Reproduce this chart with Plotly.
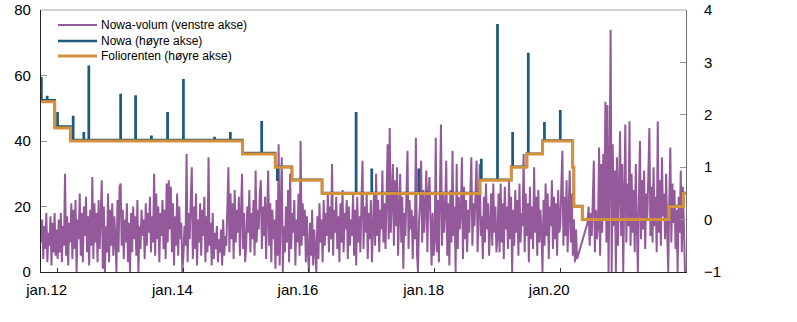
import numpy as np
import pandas as pd
import plotly.graph_objects as go

# ---------------- data ----------------
# Nowa volume (bn NOK, left axis), values read roughly every 6 days, per year
vol_2011 = [9, 16, 4, 14, 7, 18, 3, 12, 8, 17, 2, 15, 6, 18, 5, 13]
vol_2012 = [4, 16, 6, 18, 3, 14, 8, 30, 5, 17, 2, 15, 9, 21, 4, 19, 7, 22, 0, 16,
            10, 24, 5, 18, 3, 20, 11, 23, 6, 17, 2, 19, 8, 29, 4, 21, 9, 18, 3, 22,
            7, 16, 28, 1, 20, 0, 14, 6, 24, 3, 19, 8, 21, 5, 17, 10, 0, 22, 6, 26]
vol_2013 = [27, 8, 19, 4, 16, 9, 21, 3, 15, 0, 18, 6, 20, 10, 17, 5, 22, 0, 14, 7,
            19, 11, 16, 4, 21, 8, 18, 12, 23, 6, 17, 9, 30, 5, 24, 10, 20, 3, 18, 11,
            22, 7, 19, 4, 27, 9, 28, 13, 26, 6, 21, 2, 17, 8, 24, 5, 20, 10, 15, 0]
vol_2014 = [5, 14, 8, 36, 3, 18, 10, 22, 32, 4, 20, 7, 24, 2, 16, 9, 21, 5, 19, 11,
            23, 3, 17, 6, 35, 8, 15, 2, 18, 4, 12, 7, 14, 3, 10, 6, 13, 2, 16, 5,
            11, 8, 20, 32, 6, 24, 10, 21, 4, 25, 9, 19, 12, 23, 5, 22, 30, 7, 18, 3]
vol_2015 = [8, 20, 12, 25, 6, 18, 10, 22, 5, 31, 9, 19, 13, 24, 28, 7, 20, 11, 23, 4,
            17, 31, 8, 21, 3, 19, 10, 16, 1, 22, 5, 39, 2, 18, 35, 0, 14, 6, 20, 9,
            25, 3, 30, 7, 18, 12, 22, 2, 16, 9, 24, 5, 40, 8, 21, 11, 19, 3, 17, 6]
vol_2016 = [0, 15, 5, 19, 2, 13, 7, 0, 17, 4, 21, 9, 16, 3, 22, 8, 18, 11, 24, 6,
            20, 10, 33, 5, 19, 12, 23, 7, 17, 3, 21, 9, 25, 6, 18, 13, 22, 4, 20, 8,
            16, 11, 24, 5, 19, 2, 23, 9, 17, 6, 21, 34, 7, 20, 12, 24, 4, 18, 10, 22]
vol_2017 = [3, 12, 24, 8, 30, 11, 22, 6, 19, 13, 31, 9, 21, 7, 25, 39, 10, 44, 12, 26,
            33, 8, 28, 14, 32, 5, 20, 30, 9, 23, 1, 18, 11, 24, 37, 7, 22, 13, 19, 4,
            17, 10, 41, 6, 0, 15, 21, 34, 9, 25, 12, 20, 31, 6, 24, 29, 10, 2, 18, 5]
vol_2018 = [10, 41, 6, 22, 3, 27, 45, 8, 24, 12, 19, 34, 5, 21, 2, 25, 9, 37, 11, 20,
            0, 33, 7, 23, 13, 18, 35, 4, 26, 10, 22, 6, 19, 12, 25, 35, 8, 21, 14, 24,
            34, 6, 20, 33, 11, 17, 4, 23, 9, 27, 13, 21, 5, 18, 24, 8, 27, 12, 20, 6]
vol_2019 = [11, 24, 6, 27, 9, 21, 4, 26, 13, 20, 7, 28, 10, 23, 0, 19, 8, 25, 12, 22,
            5, 27, 9, 18, 14, 36, 6, 24, 11, 21, 3, 26, 10, 20, 7, 32, 12, 23, 5, 25,
            9, 19, 13, 0, 22, 8, 27, 11, 24, 4, 20, 14, 28, 7, 23, 10, 21, 5, 25, 12]
vol_2020 = [14, 26, 37, 8, 23, 11, 28, 6, 20, 31, 9, 24, 5, 16, 3, 13, 4, None, None, None,
            None, None, None, None, None, None, 15, 20, 8, 18, 11, 22, 34, 6, 19, 10, 14, 38, 5, 33,
            12, 36, 16, 52, 9, 51, 0, 30, 74, 0, 39, 14, 31, 0, 35, 8, 28, 43, 11, 33]
vol_2021 = [0, 20, 45, 9, 27, 14, 46, 8, 30, 12, 25, 6, 33, 15, 0, 22, 40, 10, 28, 13,
            31, 7, 24, 16, 29, 44, 11, 26, 9, 32, 14, 23, 6, 46, 12, 28, 8, 35, 17, 24,
            10, 30, 13, 0, 21, 38, 9, 27, 15, 25, 7, 19, 0, 23, 12, 31, 6, 26, 14, 0]

vol_by_year = {2011: vol_2011, 2012: vol_2012, 2013: vol_2013, 2014: vol_2014,
               2015: vol_2015, 2016: vol_2016, 2017: vol_2017, 2018: vol_2018,
               2019: vol_2019, 2020: vol_2020, 2021: vol_2021}

# Folio rate (right axis), step dates and levels
folio_dates = ["2011-09-27", "2011-12-15", "2012-03-15", "2014-12-11", "2015-06-19",
               "2015-09-24", "2016-03-17", "2018-09-21", "2019-03-22", "2019-06-21",
               "2019-09-20", "2020-03-13", "2020-03-20", "2020-05-08", "2021-09-24",
               "2021-12-17", "2021-12-31"]
folio_vals = [2.25, 1.75, 1.5, 1.25, 1.0, 0.75, 0.5, 0.75, 1.0, 1.25, 1.5, 1.0, 0.25,
              0.0, 0.25, 0.5, 0.5]

# Nowa (right axis): base level per folio period and spikes
nowa_base_vals = [2.28, 1.78, 1.52, 1.27, 1.01, 0.76, 0.51, 0.76, 1.01, 1.26, 1.51,
                  1.0, 0.26, 0.01, 0.26, 0.51, 0.51]
spike_dates = ["2011-09-27", "2011-10-31", "2011-12-30", "2012-03-30", "2012-05-31",
               "2012-06-29", "2012-12-31", "2013-03-28", "2013-06-28", "2013-09-30",
               "2013-12-31", "2014-06-30", "2014-09-30", "2015-03-31", "2015-06-30",
               "2016-09-30", "2016-12-30", "2017-09-29", "2018-09-28", "2018-12-31",
               "2019-03-29", "2019-06-28", "2019-09-30", "2019-12-31"]
spike_vals = [2.70, 2.34, 2.03, 1.96, 1.65, 2.92, 2.38, 2.35, 1.58, 2.03, 2.66, 1.56,
              1.65, 1.86, 0.76, 2.03, 0.95, 0.95, 1.14, 3.71, 1.65, 3.16, 1.84, 2.07]

tick_dates = ["2012-01-01", "2014-01-01", "2016-01-01", "2018-01-01", "2020-01-01"]
tick_labels = ["jan.12", "jan.14", "jan.16", "jan.18", "jan.20"]

# ---------------- build series ----------------
vol_x, vol_y = [], []
for yr, vals in vol_by_year.items():
    start = pd.Timestamp("2011-09-27") if yr == 2011 else pd.Timestamp(f"{yr}-01-01")
    end = pd.Timestamp(f"{yr + 1}-01-01")
    step = (end - start) / len(vals)
    for k, v in enumerate(vals):
        vol_x.append(start + k * step)
        vol_y.append(v)

fd = pd.to_datetime(folio_dates)


def base_at(d):
    idx = np.searchsorted(fd.values, np.datetime64(d), side="right") - 1
    idx = max(idx, 0)
    return nowa_base_vals[idx]


pts = [(d, v) for d, v in zip(fd, nowa_base_vals)]
for ds, sv in zip(pd.to_datetime(spike_dates), spike_vals):
    pts.append((ds, sv))
    pts.append((ds + pd.Timedelta(days=2), base_at(ds)))
pts.sort(key=lambda p: p[0])
nowa_x = [p[0] for p in pts]
nowa_y = [p[1] for p in pts]

PURPLE = "#93599a"
BLUE = "#1f5a7d"
ORANGE = "#d5903c"

fig = go.Figure()
fig.add_trace(go.Scatter(x=vol_x, y=vol_y, mode="lines", connectgaps=True,
                         line=dict(color=PURPLE, width=2), yaxis="y",
                         name="Nowa-volum (venstre akse)", showlegend=False))
fig.add_trace(go.Scatter(x=nowa_x, y=nowa_y, mode="lines", line_shape="hv",
                         line=dict(color=BLUE, width=2.4), yaxis="y2",
                         name="Nowa (høyre akse)", showlegend=False))
fig.add_trace(go.Scatter(x=fd, y=folio_vals, mode="lines", line_shape="hv",
                         line=dict(color=ORANGE, width=3), yaxis="y2",
                         name="Foliorenten (høyre akse)", showlegend=False))

W, H = 797, 322
L, R, T, B = 41, 111, 10, 50
pw, ph = W - L - R, H - T - B


def px(x):
    return (x - L) / pw


def py(y):
    return (H - B - y) / ph


# custom legend
legend_items = [("Nowa-volum (venstre akse)", PURPLE, 2, 25),
                ("Nowa (høyre akse)", BLUE, 2.5, 41),
                ("Foliorenten (høyre akse)", ORANGE, 3, 56)]
shapes = []
annotations = []
for txt, col, wdt, yy in legend_items:
    shapes.append(dict(type="line", xref="paper", yref="paper",
                       x0=px(58), x1=px(97), y0=py(yy), y1=py(yy),
                       line=dict(color=col, width=wdt)))
    annotations.append(dict(text=txt, xref="paper", yref="paper", x=px(98.5), y=py(yy),
                            xanchor="left", yanchor="middle", showarrow=False,
                            font=dict(size=12, color="#000")))
# top frame line
shapes.append(dict(type="line", xref="paper", yref="paper", x0=0, x1=1, y0=1, y1=1,
                   line=dict(color="#a6a6a6", width=1.2)))

fig.update_layout(
    width=W, height=H,
    margin=dict(l=L, r=R, t=T, b=B, pad=0, autoexpand=False),
    plot_bgcolor="white", paper_bgcolor="white",
    font=dict(family="Liberation Sans, Arial, sans-serif", size=15, color="#000"),
    showlegend=False,
    shapes=shapes, annotations=annotations,
    xaxis=dict(type="date", range=["2011-09-26", "2022-01-01"],
               tickvals=tick_dates, ticktext=tick_labels,
               ticks="inside", ticklen=4, tickcolor="#333", tickwidth=1,
               showline=True, linecolor="#222", linewidth=1.2, automargin=False,
               showgrid=False, zeroline=False, ticklabelshift=-11,
               ticklabelstandoff=4),
    yaxis=dict(range=[0, 80], tickvals=[0, 20, 40, 60, 80], automargin=False,
               ticks="inside", ticklen=6, tickcolor="#999", tickwidth=1,
               showline=True, linecolor="#222", linewidth=1.2,
               showgrid=False, zeroline=False, ticklabelstandoff=6),
    yaxis2=dict(range=[-1, 4], tickvals=[-1, 0, 1, 2, 3, 4], overlaying="y",
                side="right", ticks="inside", ticklen=6, tickcolor="#999",
                tickwidth=1, showline=True, linecolor="#6e6e6e", linewidth=1.2,
                automargin=False, showgrid=False, zeroline=False,
                ticklabelstandoff=14),
)

fig.write_html("out.html")
